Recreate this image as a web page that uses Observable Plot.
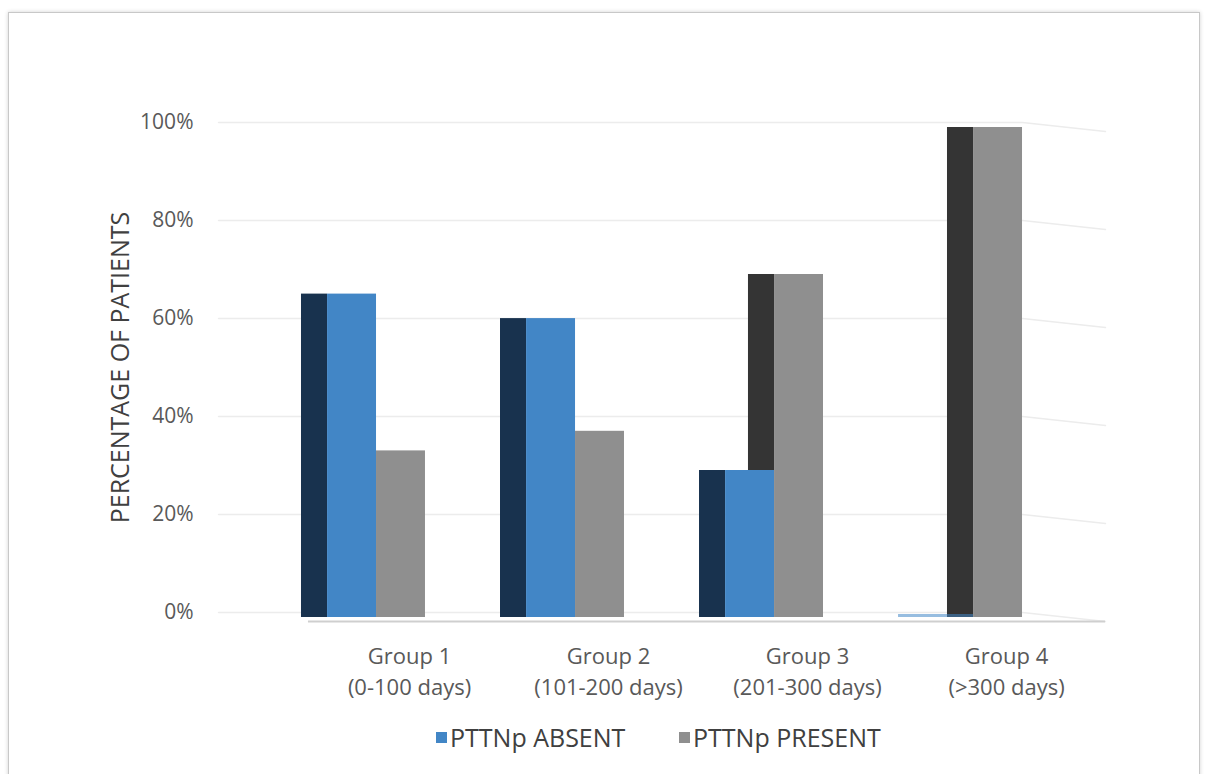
<!DOCTYPE html>
<html>
<head>
<meta charset="utf-8">
<script src="https://cdn.jsdelivr.net/npm/d3@7"></script>
<script src="https://cdn.jsdelivr.net/npm/@observablehq/plot@0.6"></script>
<style>
  html, body { margin: 0; padding: 0; background: #fff; }
  #wrap { position: relative; width: 1206px; height: 774px; overflow: hidden; font-family: 'Open Sans', sans-serif; }
  #frame { position: absolute; left: 8px; top: 12px; width: 1190px; height: 780px; border: 1px solid #c8c8c8; box-shadow: 0 0 4px rgba(0,0,0,0.18); background: #fff; }
  #chart { position: absolute; left: 0; top: 0; }
  #legend { position: absolute; top: 720px; left: 0; width: 1206px; height: 34px; }
  .item { position: absolute; top: 0; display: flex; align-items: center; font-size: 25px; color: #404040; white-space: nowrap; line-height: 34px; }
  .sw { width: 11px; height: 11px; margin-right: 3px; }
</style>
</head>
<body>
<div id="wrap">
  <div id="frame"></div>
  <div id="chart"></div>
  <div id="legend"></div>
</div>
<script>
// ---- data ----
const groups = ["Group 1", "Group 2", "Group 3", "Group 4"];
const ranges = ["(0-100 days)", "(101-200 days)", "(201-300 days)", "(>300 days)"];
const absent = [66, 61, 30, 0];
const present = [34, 38, 70, 100];
const yTicks = [0, 20, 40, 60, 80, 100];
const seriesNames = ["PTTNp ABSENT", "PTTNp PRESENT"];
const yTitle = "PERCENTAGE OF PATIENTS";

// ---- styling / layout ----
const colors = {
  absentFront: "#4286c6", absentSide: "#18324e",
  presentFront: "#8f8f8f", presentSide: "#343434"
};
const FRONT = 0.246;  // front face width in group units
const DEPTH = 0.131;  // visible side depth in group units

const rows = [];
groups.forEach((g, i) => {
  const c = i + 0.5;
  rows.push({g, i, s: seriesNames[0], v: absent[i],
    fx1: c - FRONT, fx2: c, sx1: c - FRONT - DEPTH, sx2: c - FRONT,
    front: colors.absentFront, side: colors.absentSide});
  rows.push({g, i, s: seriesNames[1], v: present[i],
    fx1: c, fx2: c + FRONT, sx1: c - DEPTH, sx2: c,
    front: colors.presentFront, side: colors.presentSide});
});
const absRows = rows.filter(d => d.s === seriesNames[0]);
const presRows = rows.filter(d => d.s === seriesNames[1]);

const X0 = -0.294, XKNEE = 3.746, X1 = 4.163, DROP = 1.85;
const gridPts = yTicks.flatMap(t => [
  {t, x: X0, y: t}, {t, x: XKNEE, y: t}, {t, x: X1, y: t - DROP}
]);

const barOpts = (arr, xa, xb, fillKey, extra = {}) =>
  Plot.rect(arr, {x1: xa, x2: xb, y1: () => 0, y2: "v", fill: fillKey, dy: 5, ...extra});

const chart = Plot.plot({
  width: 1206, height: 710,
  marginLeft: 218, marginRight: 101, marginTop: 122, marginBottom: 98,
  x: {domain: [X0, X1], axis: null},
  y: {domain: [0, 100], axis: null},
  style: {fontFamily: "'Open Sans', sans-serif", background: "transparent"},
  marks: [
    Plot.line(gridPts, {x: "x", y: "y", z: "t", stroke: "#ececec", strokeWidth: 1.4}),
    Plot.ruleY([0], {x1: 0.158, x2: X1, dy: 9, stroke: "#cfcfcf", strokeWidth: 2}),
    barOpts(presRows.filter(d => d.v > 0), "sx1", "sx2", "side"),
    barOpts(absRows.filter(d => d.v > 0), "sx1", "sx2", "side"),
    barOpts(absRows.filter(d => d.v > 0), "fx1", "fx2", "front"),
    barOpts(absRows.filter(d => d.v === 0), "sx1", "fx2", "front", {insetTop: -3, fillOpacity: 0.55}),
    barOpts(presRows, "fx1", "fx2", "front"),
    Plot.axisY(yTicks, {tickFormat: d => d + "%", tickSize: 0, tickPadding: 25, fontSize: 21, fill: "#595959", label: null}),
    Plot.axisX(groups.map((g, i) => i + 0.5), {
      tickFormat: d => groups[Math.floor(d)] + "\n" + ranges[Math.floor(d)],
      tickSize: 0, tickPadding: 29, fontSize: 22, lineHeight: 1.41, fill: "#595959", dx: 33, label: null
    }),
    Plot.text([yTitle], {frameAnchor: "left", textAnchor: "middle", rotate: -90, dx: -98, fontSize: 25, fill: "#404040"})
  ]
});
document.getElementById("chart").appendChild(chart);

// legend
const legend = document.getElementById("legend");
const legendItems = [
  {name: seriesNames[0], color: colors.absentFront, left: 436},
  {name: seriesNames[1], color: colors.presentFront, left: 679}
];
legendItems.forEach(it => {
  const el = document.createElement("div");
  el.className = "item";
  el.style.left = it.left + "px";
  el.innerHTML = `<span class="sw" style="background:${it.color}"></span><span>${it.name}</span>`;
  legend.appendChild(el);
});
</script>
</body>
</html>
